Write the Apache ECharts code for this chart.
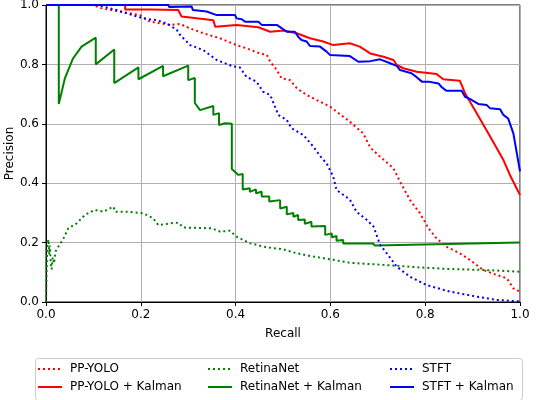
<!DOCTYPE html>
<html>
<head>
<meta charset="utf-8">
<script src="https://cdn.jsdelivr.net/npm/echarts@6/dist/echarts.min.js"></script>
<style>
  html, body { margin: 0; padding: 0; background: #fff; }
  #chart { width: 538px; height: 400px; }
</style>
</head>
<body>
<div id="chart"></div>
<script>
// recall / precision
const ppyoloR = [0, 0.10, 0.114, 0.156, 0.198, 0.219, 0.262, 0.283, 0.304, 0.332, 0.367, 0.402, 0.423, 0.451, 0.466, 0.473, 0.487, 0.497, 0.515, 0.529, 0.55, 0.571, 0.599, 0.627, 0.641, 0.669, 0.684, 0.705, 0.733, 0.747, 0.768, 0.789, 0.807, 0.824, 0.845, 0.873, 0.895, 0.922, 0.951, 0.972, 0.986, 1.0]
const ppyoloP = [1, 1, 0.99, 0.978, 0.966, 0.944, 0.933, 0.936, 0.921, 0.905, 0.888, 0.865, 0.854, 0.837, 0.832, 0.809, 0.781, 0.753, 0.747, 0.72, 0.697, 0.68, 0.658, 0.624, 0.607, 0.568, 0.52, 0.489, 0.45, 0.405, 0.343, 0.299, 0.248, 0.214, 0.186, 0.164, 0.141, 0.108, 0.091, 0.08, 0.046, 0.035]

const ppyoloKR = [0, 0.167, 0.167, 0.219, 0.222, 0.279, 0.286, 0.318, 0.353, 0.357, 0.402, 0.448, 0.473, 0.501, 0.529, 0.557, 0.585, 0.606, 0.641, 0.662, 0.684, 0.712, 0.733, 0.74, 0.754, 0.782, 0.824, 0.838, 0.873, 0.884, 0.909, 0.937, 0.965, 0.979, 1.0]
const ppyoloKP = [1, 1, 0.985, 0.985, 0.98, 0.983, 0.961, 0.955, 0.949, 0.927, 0.933, 0.925, 0.91, 0.914, 0.905, 0.888, 0.877, 0.865, 0.871, 0.86, 0.837, 0.826, 0.815, 0.798, 0.787, 0.775, 0.768, 0.75, 0.745, 0.703, 0.635, 0.557, 0.478, 0.427, 0.36]

const retinaR = [0, 0.001, 0.002, 0.003, 0.005, 0.007, 0.008, 0.010, 0.012, 0.014, 0.017, 0.020, 0.026, 0.037, 0.047, 0.065, 0.082, 0.103, 0.121, 0.142, 0.146, 0.17, 0.205, 0.226, 0.237, 0.262, 0.279, 0.29, 0.35, 0.367, 0.388, 0.402, 0.43, 0.466, 0.501, 0.529, 0.564, 0.599, 0.641, 0.712, 0.782, 0.852, 0.922, 1.0]
const retinaP = [0, 0.08, 0.15, 0.19, 0.21, 0.16, 0.19, 0.13, 0.11, 0.15, 0.13, 0.17, 0.186, 0.214, 0.248, 0.265, 0.293, 0.31, 0.304, 0.321, 0.304, 0.304, 0.299, 0.282, 0.259, 0.265, 0.267, 0.251, 0.248, 0.237, 0.24, 0.22, 0.198, 0.184, 0.177, 0.164, 0.153, 0.144, 0.132, 0.125, 0.117, 0.111, 0.108, 0.102]

const retinaKR = [0, 0.027, 0.027, 0.04, 0.057, 0.075, 0.105, 0.105, 0.144, 0.144, 0.195, 0.195, 0.247, 0.247, 0.30, 0.30, 0.314, 0.314, 0.325, 0.353, 0.353, 0.365, 0.365, 0.378, 0.392, 0.392, 0.406, 0.415, 0.415, 0.43, 0.43, 0.443, 0.443, 0.455, 0.455, 0.471, 0.471, 0.494, 0.494, 0.508, 0.508, 0.522, 0.522, 0.532, 0.532, 0.546, 0.546, 0.56, 0.56, 0.589, 0.589, 0.603, 0.603, 0.613, 0.613, 0.627, 0.627, 0.69, 0.694, 1.0]
const retinaKP = [1, 1, 0.667, 0.754, 0.82, 0.86, 0.89, 0.80, 0.85, 0.737, 0.79, 0.75, 0.795, 0.76, 0.796, 0.747, 0.754, 0.67, 0.646, 0.66, 0.63, 0.636, 0.596, 0.602, 0.60, 0.448, 0.428, 0.431, 0.379, 0.383, 0.371, 0.379, 0.366, 0.371, 0.355, 0.355, 0.338, 0.343, 0.315, 0.321, 0.295, 0.30, 0.287, 0.293, 0.276, 0.278, 0.263, 0.27, 0.254, 0.256, 0.226, 0.231, 0.218, 0.222, 0.206, 0.209, 0.197, 0.197, 0.19, 0.2]

const stftR = [0, 0.11, 0.121, 0.149, 0.17, 0.205, 0.233, 0.255, 0.276, 0.283, 0.304, 0.332, 0.36, 0.395, 0.409, 0.423, 0.444, 0.458, 0.473, 0.479, 0.49, 0.508, 0.518, 0.543, 0.564, 0.582, 0.592, 0.606, 0.613, 0.641, 0.655, 0.677, 0.691, 0.705, 0.719, 0.74, 0.768, 0.803, 0.852, 0.909, 0.951, 1.0]
const stftP = [1, 1, 0.995, 0.983, 0.972, 0.955, 0.949, 0.938, 0.916, 0.899, 0.865, 0.848, 0.815, 0.793, 0.79, 0.758, 0.742, 0.708, 0.697, 0.674, 0.63, 0.613, 0.585, 0.562, 0.523, 0.484, 0.467, 0.422, 0.377, 0.345, 0.304, 0.276, 0.254, 0.192, 0.164, 0.119, 0.085, 0.057, 0.035, 0.018, 0.007, 0.002]

const stftKR = [0, 0.258, 0.26, 0.307, 0.31, 0.339, 0.342, 0.36, 0.399, 0.402, 0.413, 0.42, 0.448, 0.455, 0.487, 0.497, 0.508, 0.525, 0.532, 0.539, 0.55, 0.557, 0.578, 0.592, 0.599, 0.641, 0.659, 0.684, 0.705, 0.726, 0.74, 0.747, 0.771, 0.782, 0.793, 0.807, 0.828, 0.835, 0.845, 0.877, 0.884, 0.895, 0.912, 0.93, 0.937, 0.958, 0.965, 0.975, 0.986, 1.0]
const stftKP = [1, 1, 0.993, 0.995, 0.983, 0.978, 0.972, 0.966, 0.966, 0.955, 0.952, 0.944, 0.944, 0.933, 0.933, 0.922, 0.91, 0.91, 0.893, 0.882, 0.877, 0.862, 0.86, 0.843, 0.832, 0.828, 0.809, 0.811, 0.817, 0.804, 0.795, 0.781, 0.77, 0.757, 0.742, 0.742, 0.736, 0.723, 0.711, 0.711, 0.691, 0.683, 0.667, 0.663, 0.652, 0.649, 0.63, 0.618, 0.568, 0.44]

const axisTicks = [0, 0.2, 0.4, 0.6, 0.8, 1.0]

function zip(xs, ys) {
  return xs.map((x, i) => [x, ys[i]])
}

const font = 'DejaVu Sans'
const chart = echarts.init(document.getElementById('chart'), null, { renderer: 'canvas' })

function line(name, xs, ys, color, dotted) {
  return {
    name: name,
    type: 'line',
    data: zip(xs, ys),
    symbol: 'none',
    smooth: false,
    lineStyle: { color: color, width: 2, type: dotted ? [2, 3] : 'solid' },
    itemStyle: { color: color },
    emphasis: { disabled: true }
  }
}

function legendAt(left, names) {
  return {
    orient: 'vertical',
    left: left,
    top: 363,
    padding: 0,
    itemWidth: 24,
    itemHeight: 14,
    itemGap: 6,
    data: names,
    itemStyle: { opacity: 0 },
    textStyle: { fontFamily: font, fontSize: 12, color: '#000', padding: [0, 0, 0, 3] }
  }
}

const axisCommon = {
  type: 'value',
  min: 0,
  max: 1,
  interval: 0.2,
  axisLine: { show: true, onZero: false, lineStyle: { color: '#000', width: 1 } },
  axisTick: { show: true, length: 4, lineStyle: { color: '#000' } },
  splitLine: { show: true, lineStyle: { color: '#b0b0b0', width: 1 } },
  axisLabel: {
    fontFamily: font, fontSize: 12, color: '#000', margin: 7,
    formatter: v => axisTicks.indexOf(+v.toFixed(1)) >= 0 ? v.toFixed(1) : ''
  },
  nameTextStyle: { fontFamily: font, fontSize: 12, color: '#000' },
  nameLocation: 'middle',
  nameMoveOverlap: false
}

chart.setOption({
  animation: false,
  backgroundColor: '#fff',
  grid: { left: 46, top: 5, right: 18, bottom: 98, show: true, borderColor: '#000', borderWidth: 1, outerBoundsMode: 'none', containLabel: false },
  xAxis: Object.assign({}, axisCommon, { name: 'Recall', nameGap: 26 }),
  yAxis: Object.assign({}, axisCommon, { name: 'Precision', nameGap: 30 }),
  legend: [
    legendAt(37, ['PP-YOLO', 'PP-YOLO + Kalman']),
    legendAt(207, ['RetinaNet', 'RetinaNet + Kalman']),
    legendAt(389, ['STFT', 'STFT + Kalman'])
  ],
  graphic: [{
    type: 'rect',
    left: 33,
    top: 356,
    shape: { width: 487, height: 42, r: 3 },
    style: { fill: 'none', stroke: '#cccccc', lineWidth: 1 },
    z: -1
  }],
  series: [
    line('PP-YOLO', ppyoloR, ppyoloP, '#ff0000', true),
    line('PP-YOLO + Kalman', ppyoloKR, ppyoloKP, '#ff0000', false),
    line('RetinaNet', retinaR, retinaP, '#008000', true),
    line('RetinaNet + Kalman', retinaKR, retinaKP, '#008000', false),
    line('STFT', stftR, stftP, '#0000ff', true),
    line('STFT + Kalman', stftKR, stftKP, '#0000ff', false)
  ]
})
</script>
</body>
</html>
